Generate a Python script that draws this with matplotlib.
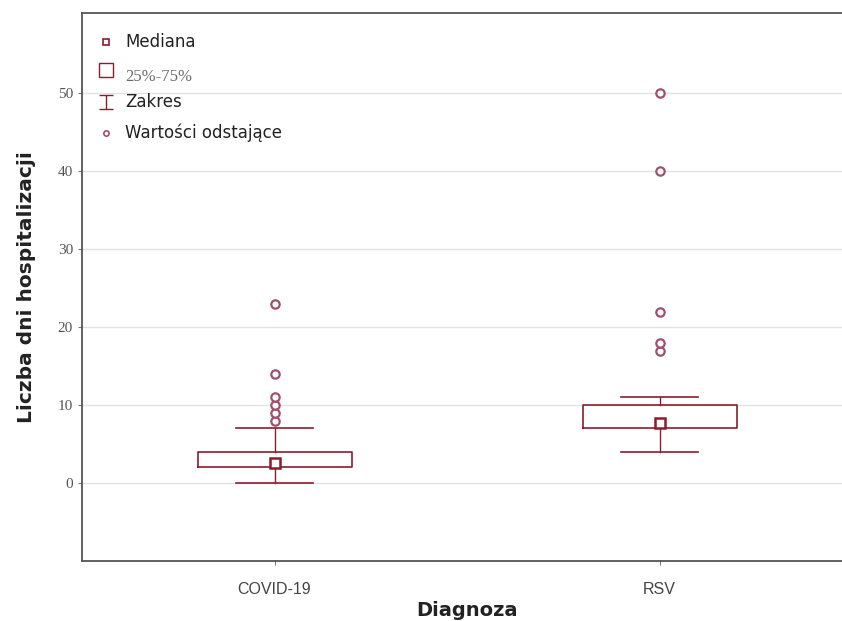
import numpy as np
import matplotlib.pyplot as plt
from matplotlib.path import Path

groups = ['COVID-19', 'RSV']
medians = [2.6, 7.7]
q1 = [2, 7]
q3 = [4, 10]
whisk_lo = [0, 4]
whisk_hi = [7, 11]
outliers = [[8, 9, 10, 11, 14, 23], [17, 18, 22, 40, 50]]
yticks = [0, 10, 20, 30, 40, 50]
legend_labels = ['Mediana', '25%-75%', 'Zakres', 'Wartości odstające']

dark_red = '#8c1c2c'
out_edge = '#a0506a'
W, H = 842, 621

fig = plt.figure(figsize=(W / 100, H / 100), dpi=100)
ax = fig.add_axes([82 / W, 60 / H, 770 / W, 548 / H])

stats = []
for i in range(len(groups)):
    stats.append({'med': medians[i], 'q1': q1[i], 'q3': q3[i],
                  'whislo': whisk_lo[i], 'whishi': whisk_hi[i],
                  'fliers': outliers[i], 'label': groups[i]})

pos = np.arange(1, len(groups) + 1)
ax.bxp(stats, positions=pos, widths=0.4, showfliers=True,
       boxprops=dict(color=dark_red, linewidth=1.2),
       whiskerprops=dict(color=dark_red, linewidth=1.0),
       capprops=dict(color=dark_red, linewidth=1.2),
       capwidths=0.2,
       medianprops=dict(linestyle='none'),
       flierprops=dict(marker='o', markersize=6, markerfacecolor='white',
                       markeredgecolor=out_edge, markeredgewidth=1.6))
ax.plot(pos, medians, linestyle='none', marker='s', markersize=7.5,
        markerfacecolor='white', markeredgecolor=dark_red, markeredgewidth=1.8)

ax.set_xlim(0.5, 2.5)
ax.set_ylim(-10, 60.3)
ax.set_yticks(yticks)
ax.yaxis.grid(True, color='#e2e2e2', linewidth=1)
ax.set_axisbelow(True)

for s in ['left', 'bottom', 'top']:
    ax.spines[s].set_color('#555555')
    ax.spines[s].set_linewidth(1.3)
ax.spines['right'].set_visible(False)

ax.tick_params(axis='y', length=3, color='#777777', labelsize=11, labelcolor='#555555')
ax.tick_params(axis='x', length=3, color='#777777', labelsize=11.5, labelcolor='#444444', pad=12)
for lab in ax.get_yticklabels():
    lab.set_family('Liberation Serif')
for lab in ax.get_xticklabels():
    lab.set_family(['Liberation Sans Narrow', 'Liberation Sans'])

ax.set_xlabel('Diagnoza', fontsize=14, fontweight='bold', color='#222222', labelpad=3)
ax.set_ylabel('Liczba dni hospitalizacji', fontsize=14.5, fontweight='bold',
              color='#222222', labelpad=16)

# legend drawn by hand, positions in figure pixels
px = lambda x, y: (x / W, 1 - y / H)
ibeam = Path([(-1, 1), (1, 1), (0, 1), (0, -1), (-1, -1), (1, -1)],
             [Path.MOVETO, Path.LINETO, Path.MOVETO, Path.LINETO, Path.MOVETO, Path.LINETO])
sym = [dict(marker='s', ms=3.8, mew=1.2, y=42),
       dict(marker='s', ms=9.5, mew=1.0, y=70),
       dict(marker=ibeam, ms=9.5, mew=1.0, y=102),
       dict(marker='o', ms=3.8, mew=1.2, y=133)]
text_y = [42, 77, 102, 133]
for i, lab in enumerate(legend_labels):
    s = sym[i]
    ec = out_edge if i == 3 else dark_red
    fig.add_artist(plt.Line2D([px(106, s['y'])[0]], [px(106, s['y'])[1]],
                              linestyle='none', marker=s['marker'], markersize=s['ms'],
                              markerfacecolor='white', markeredgecolor=ec,
                              markeredgewidth=s['mew'], transform=fig.transFigure))
    if i == 1:
        fig.text(*px(125, text_y[i]), lab, family='Liberation Serif', fontsize=12,
                 color='#6a6a6a', va='center', ha='left')
    else:
        fig.text(*px(125, text_y[i]), lab, fontsize=12, color='#222222',
                 va='center', ha='left')

fig.savefig('out.png', dpi=100)
